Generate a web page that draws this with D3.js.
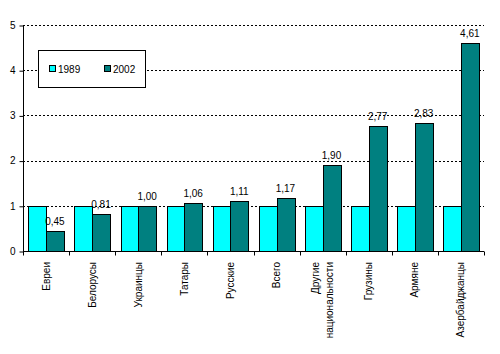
<!DOCTYPE html>
<html><head><meta charset="utf-8">
<script src="https://cdn.jsdelivr.net/npm/d3@7"></script>
<style>body{margin:0;background:#fff}svg{display:block;font-family:"Liberation Sans",Arial,sans-serif}</style>
</head><body><svg id="c" width="500" height="354"></svg>
<script>
const categories = ["Евреи","Белорусы","Украинцы","Татары","Русские","Всего","Другие|национальности","Грузины","Армяне","Азербайджанцы"];
const values1989 = [1,1,1,1,1,1,1,1,1,1];
const values2002 = [0.45,0.81,1.00,1.06,1.11,1.17,1.90,2.77,2.83,4.61];
const labels2002 = ["0,45","0,81","1,00","1,06","1,11","1,17","1,90","2,77","2,83","4,61"];
const yTicks = [0,1,2,3,4,5];
const seriesNames = ["1989","2002"];
const colors = ["#00ffff","#008080"];

const svg = d3.select("#c");
const L=23, R=484, T=25, B=251;
const x = d3.scaleBand().domain(categories).range([L,R]);
const y = d3.scaleLinear().domain([0,5]).range([B,T]);
const inner = d3.scaleBand().domain([0,1]).range([0,x.bandwidth()]).paddingOuter(0.3).paddingInner(0);

// gridlines
svg.append("g").selectAll("line").data(yTicks.filter(d=>d>0)).join("line")
  .attr("x1",L).attr("x2",R).attr("y1",d=>Math.round(y(d))+0.5).attr("y2",d=>Math.round(y(d))+0.5)
  .attr("stroke","#000").attr("stroke-dasharray","2,2");

// bars
const g = svg.append("g");
categories.forEach((c,i)=>{
  [values1989[i],values2002[i]].forEach((v,s)=>{
    g.append("rect")
      .attr("x",Math.round(x(c)+inner(s))+0.5)
      .attr("y",Math.round(y(v))+0.5)
      .attr("width",Math.round(inner.bandwidth()))
      .attr("height",Math.round(y(0))-Math.round(y(v)))
      .attr("fill",colors[s]).attr("stroke","#000").attr("stroke-width",1);
  });
  svg.append("text")
    .attr("x",x(c)+inner(1)+inner.bandwidth()/2)
    .attr("y",y(values2002[i])-6)
    .attr("text-anchor","middle").attr("font-size",10).text(labels2002[i]);
});

// y axis
const ya = svg.append("g").attr("transform",`translate(${L+0.5},0)`)
  .call(d3.axisLeft(y).tickValues(yTicks).tickSize(4).tickFormat(d3.format("d")));
ya.select(".domain").attr("d",`M0,${T}V${B+0.5}`);
ya.selectAll("text").attr("font-size",10).attr("font-family","Liberation Sans, Arial, sans-serif").attr("fill","#000").attr("x",-8);
ya.selectAll(".tick line").attr("transform","translate(0,0.5)");

// x axis
const xa = svg.append("g").attr("transform",`translate(0,${B+0.5})`);
xa.append("line").attr("x1",L).attr("x2",R).attr("stroke","#000");
const edges = categories.map(c=>x(c)).concat([R]);
xa.selectAll("line.t").data(edges).join("line").attr("class","t")
  .attr("x1",d=>Math.round(d)+0.5).attr("x2",d=>Math.round(d)+0.5).attr("y1",0).attr("y2",4).attr("stroke","#000");

categories.forEach(c=>{
  const lines = c.split("|");
  const cx = x(c)+x.bandwidth()/2;
  lines.forEach((ln,k)=>{
    const off = (k-(lines.length-1)/2)*14;
    svg.append("text")
      .attr("transform",`translate(${cx+off+3.5},${B+11}) rotate(-90)`)
      .attr("text-anchor","end").attr("font-size",10).text(ln);
  });
});

// legend
const lg = svg.append("g");
lg.append("rect").attr("x",38.5).attr("y",50.5).attr("width",107).attr("height",37)
  .attr("fill","#fff").attr("stroke","#000");
seriesNames.forEach((n,s)=>{
  const lx = 49 + s*55;
  lg.append("rect").attr("x",lx+0.5).attr("y",65.5).attr("width",6).attr("height",6)
    .attr("fill",colors[s]).attr("stroke","#000");
  lg.append("text").attr("x",lx+9).attr("y",72.5).attr("font-size",10).text(n);
});
</script></body></html>
